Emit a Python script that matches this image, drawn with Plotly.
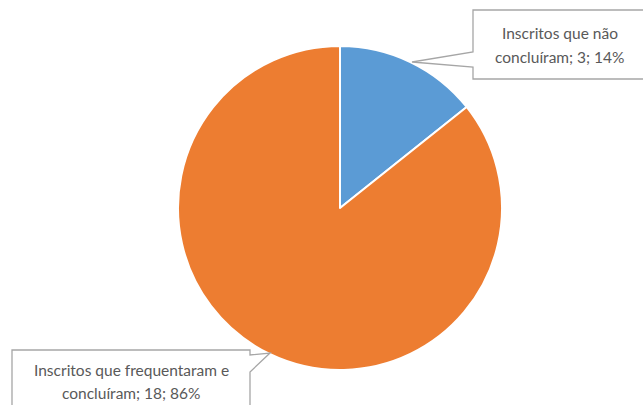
import plotly.graph_objects as go

labels = ["Inscritos que não concluíram", "Inscritos que frequentaram e concluíram"]
values = [3, 18]
colors = ["#5B9BD5", "#ED7D31"]

W, H = 643, 405
total = sum(values)
pcts = [round(v / total * 100) for v in values]

def px(x):
    return x / W

def py(y):
    return 1 - y / H

fig = go.Figure()
fig.add_trace(go.Pie(
    labels=labels, values=values, sort=False, direction="clockwise", rotation=0,
    marker=dict(colors=colors, line=dict(color="white", width=2)),
    textinfo="none", hoverinfo="label+value+percent", showlegend=False,
    domain=dict(x=[px(340 - 162), px(340 + 162)], y=[py(208 + 162), py(208 - 162)]),
))

def path(pts):
    return "M " + " L ".join(f"{px(x)},{py(y)}" for x, y in pts) + " Z"

box1 = [(473, 10), (650, 10), (650, 79), (473, 79), (473, 67), (412, 62), (473, 52)]
box2 = [(12, 350), (250, 350), (250, 355), (270, 353), (250, 372), (250, 420), (12, 420)]
for b in (box1, box2):
    fig.add_shape(type="path", path=path(b), xref="paper", yref="paper",
                  fillcolor="white", line=dict(color="#A6A6A6", width=1.3))

font = dict(family="Lato", size=15.5, color="#595959")
lines1 = ["Inscritos que não", f"concluíram; {values[0]}; {pcts[0]}%"]
lines2 = ["Inscritos que frequentaram e", f"concluíram; {values[1]}; {pcts[1]}%"]
for i, t in enumerate(lines1):
    fig.add_annotation(x=px(560), y=py(33 + 24 * i), xref="paper", yref="paper",
                       text=t, showarrow=False, font=font, xanchor="center", yanchor="middle")
for i, t in enumerate(lines2):
    fig.add_annotation(x=px(131), y=py(370 + 23 * i), xref="paper", yref="paper",
                       text=t, showarrow=False, font=font, xanchor="center", yanchor="middle")

fig.update_layout(width=W, height=H, margin=dict(l=0, r=0, t=0, b=0),
                  paper_bgcolor="white", plot_bgcolor="white")
fig.write_html("out.html")
